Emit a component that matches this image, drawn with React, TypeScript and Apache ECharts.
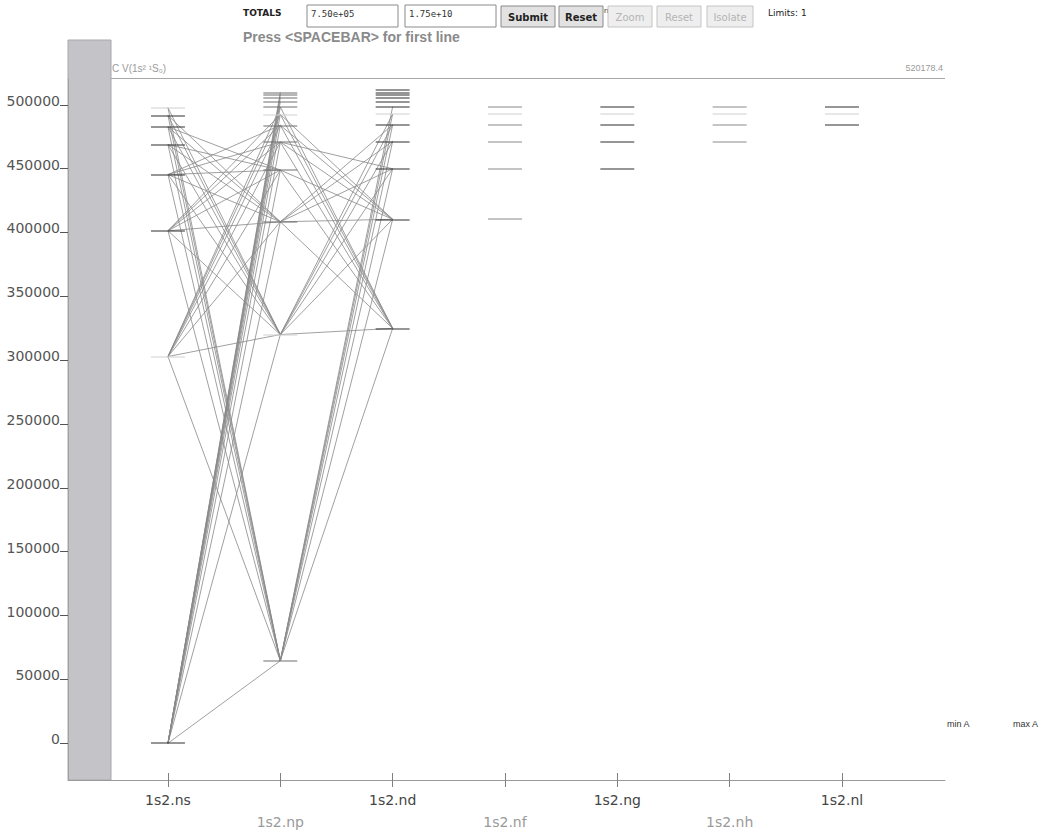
import React, { useEffect, useRef } from "react";
import * as echarts from "echarts";

// Column (configuration series) labels
const columns = ["1s2.ns", "1s2.np", "1s2.nd", "1s2.nf", "1s2.ng", "1s2.nh", "1s2.nl"];
const columnL = ["s", "p", "d", "f", "g", "h", "i"];
const firstN = [2, 2, 3, 4, 5, 6, 7];

// Level energies (cm-1), ordered by n starting at firstN
const sLevels = [0, 302849, 401346, 445361, 468783, 482703, 491648, 497735];
const pLevels = [64592, 320050, 408338, 448864, 470785, 483953, 492480, 498318, 502486, 505567, 507907, 509727];
const dLevels = [324890, 410318, 449888, 471378, 484324, 492731, 498491, 502613, 505662, 507981, 509786, 511900];
const fLevels = [410441, 449946, 471406, 484345, 492744, 498502];
const gLevels = [449950, 471410, 484348, 492746, 498503];
const hLevels = [471411, 484349, 492747, 498504];
const iLevels = [484349, 492747, 498504];

const ionLimit = 520178.4;
const yTicks = [0, 50000, 100000, 150000, 200000, 250000, 300000, 350000, 400000, 450000, 500000];

// Transitions [lower, upper]
const spTransitions = [
  ["2s", "2p"], ["2s", "3p"], ["2s", "4p"], ["2s", "5p"], ["2s", "6p"], ["2s", "7p"], ["2s", "8p"],
  ["2s", "9p"], ["2s", "10p"], ["2s", "11p"], ["2s", "12p"], ["2s", "13p"],
  ["2p", "3s"], ["2p", "4s"], ["2p", "5s"], ["2p", "6s"], ["2p", "7s"], ["2p", "8s"], ["2p", "9s"],
  ["3s", "3p"], ["3s", "4p"], ["3s", "5p"], ["3s", "6p"], ["3s", "7p"], ["3s", "8p"], ["3s", "9p"],
  ["3p", "4s"], ["3p", "5s"], ["3p", "6s"], ["3p", "7s"], ["3p", "8s"], ["3p", "9s"],
  ["4s", "4p"], ["4s", "5p"], ["4s", "6p"], ["4s", "7p"], ["4s", "8p"],
  ["4p", "5s"], ["4p", "6s"], ["4p", "7s"], ["4p", "8s"],
  ["5s", "5p"], ["5s", "6p"], ["5s", "7p"],
  ["5p", "6s"], ["5p", "7s"],
];
const pdTransitions = [
  ["2p", "3d"], ["2p", "4d"], ["2p", "5d"], ["2p", "6d"], ["2p", "7d"], ["2p", "8d"], ["2p", "9d"],
  ["3p", "3d"], ["3p", "4d"], ["3p", "5d"], ["3p", "6d"], ["3p", "7d"], ["3p", "8d"],
  ["3d", "4p"], ["3d", "5p"], ["3d", "6p"], ["3d", "7p"], ["3d", "8p"], ["3d", "9p"],
  ["4p", "4d"], ["4p", "5d"], ["4p", "6d"], ["4p", "7d"],
  ["4d", "5p"], ["4d", "6p"], ["4d", "7p"], ["4d", "8p"],
  ["5d", "6p"],
];

const allLevels = [sLevels, pLevels, dLevels, fLevels, gLevels, hLevels, iLevels];

export default function App() {
  const ref = useRef<HTMLDivElement>(null);

  useEffect(() => {
    if (!ref.current) return;
    const chart = echarts.init(ref.current, null, { renderer: "svg" });

    const colColor = ["#2e2e2e", "#6e6e6e", "#2e2e2e", "#8a8a8a", "#2e2e2e", "#8a8a8a", "#2e2e2e"];
    const lightSet = new Set(["3s", "9s", "3p", "8p", "8d", "8f", "8g", "8h", "8i"]);
    const half = 0.151;

    const levelMap: Record<string, [number, number]> = {};
    const levelData: any[] = [];
    allLevels.forEach((arr, ci) => {
      arr.forEach((e, k) => {
        const name = `${firstN[ci] + k}${columnL[ci]}`;
        levelMap[name] = [ci, e];
        levelData.push({
          coords: [[ci - half, e], [ci + half, e]],
          lineStyle: { color: lightSet.has(name) ? "#cfcfcf" : colColor[ci], width: 2 },
        });
      });
    });

    const transData = [...spTransitions, ...pdTransitions]
      .filter(([a, b]) => levelMap[a] && levelMap[b])
      .map(([a, b]) => ({ coords: [levelMap[a], levelMap[b]] }));

    const font = "DejaVu Sans";
    const xMin = -0.89;
    const xMax = 6.917;

    const btn = (x: number, w: number, label: string, enabled: boolean) => ({
      type: "group",
      children: [
        {
          type: "rect",
          shape: { x, y: 6, width: w, height: 21 },
          style: { fill: enabled ? "#e2e2e2" : "#eeeeee", stroke: enabled ? "#8a8a8a" : "#c4c4c4", lineWidth: 1 },
        },
        {
          type: "text",
          x: x + w / 2,
          y: 17,
          style: {
            text: label,
            fill: enabled ? "#222" : "#b4b4b4",
            font: `${enabled ? "bold " : ""}10px ${font}`,
            align: "center",
            verticalAlign: "middle",
          },
        },
      ],
    });

    const option: any = {
      animation: false,
      backgroundColor: "#ffffff",
      grid: { left: 68, right: 105, top: 79, bottom: 54, containLabel: false },
      xAxis: [
        {
          type: "value",
          min: xMin,
          max: xMax,
          position: "bottom",
          axisLine: { show: true, onZero: false, lineStyle: { color: "#9a9a9a", width: 1 } },
          axisTick: { show: true, length: 7, customValues: [0, 1, 2, 3, 4, 5, 6], lineStyle: { color: "#808080" } },
          axisLabel: {
            customValues: [0, 2, 4, 6],
            formatter: (v: number) => columns[Math.round(v)],
            color: "#444",
            fontFamily: font,
            fontSize: 14,
            margin: 13,
          },
          splitLine: { show: false },
        },
        {
          type: "value",
          min: xMin,
          max: xMax,
          position: "bottom",
          axisLine: { show: false, onZero: false },
          axisTick: { show: true, inside: true, length: 7, customValues: [0, 1, 2, 3, 4, 5, 6], lineStyle: { color: "#808080" } },
          axisLabel: {
            customValues: [1, 3, 5],
            formatter: (v: number) => columns[Math.round(v)],
            color: "#9a9a9a",
            fontFamily: font,
            fontSize: 14,
            margin: 35,
          },
          splitLine: { show: false },
        },
      ],
      yAxis: {
        type: "value",
        min: -28800,
        max: ionLimit,
        axisLine: { show: true, onZero: false, lineStyle: { color: "#a0a0a0" } },
        axisTick: { show: true, length: 8, customValues: yTicks, lineStyle: { color: "#555" } },
        axisLabel: {
          customValues: yTicks,
          formatter: (v: number) => String(Math.round(v)),
          color: "#555",
          fontFamily: font,
          fontSize: 14,
          margin: 8,
          verticalAlign: "bottom",
          lineHeight: 8,
        },
        splitLine: { show: false },
      },
      graphic: [
        {
          type: "rect",
          z: -10,
          shape: { x: 68, y: 40, width: 43, height: 740 },
          style: { fill: "#c4c4c8", stroke: "#a8a8ac", lineWidth: 1 },
        },
        {
          type: "line",
          shape: { x1: 111, y1: 78.5, x2: 945, y2: 78.5 },
          style: { stroke: "#a8a8a8", lineWidth: 1 },
        },
        {
          type: "text",
          x: 112,
          y: 68,
          style: { text: "C V(1s² ¹S₀)", fill: "#9a9a9a", font: "10px Liberation Sans", verticalAlign: "middle" },
        },
        {
          type: "text",
          x: 943,
          y: 68,
          style: { text: "520178.4", fill: "#9a9a9a", font: "9px Liberation Sans", align: "right", verticalAlign: "middle" },
        },
        {
          type: "text",
          x: 243,
          y: 13,
          style: { text: "TOTALS", fill: "#222", font: `bold 9px ${font}`, verticalAlign: "middle" },
        },
        {
          type: "rect",
          shape: { x: 307, y: 5, width: 91, height: 22 },
          style: { fill: "#fff", stroke: "#8a8a8a", lineWidth: 1 },
        },
        {
          type: "text",
          x: 311,
          y: 14,
          style: { text: "7.50e+05", fill: "#333", font: "9px DejaVu Sans Mono", verticalAlign: "middle" },
        },
        {
          type: "rect",
          shape: { x: 405, y: 5, width: 91, height: 22 },
          style: { fill: "#fff", stroke: "#8a8a8a", lineWidth: 1 },
        },
        {
          type: "text",
          x: 409,
          y: 14,
          style: { text: "1.75e+10", fill: "#333", font: "9px DejaVu Sans Mono", verticalAlign: "middle" },
        },
        btn(501, 54, "Submit", true),
        btn(559, 44, "Reset", true),
        {
          type: "text",
          x: 604,
          y: 10,
          style: { text: "n", fill: "#333", font: "8px Liberation Sans", verticalAlign: "middle" },
        },
        btn(608, 44, "Zoom", false),
        btn(657, 44, "Reset", false),
        btn(707, 46, "Isolate", false),
        {
          type: "text",
          x: 768,
          y: 13,
          style: { text: "Limits: 1", fill: "#222", font: `9px ${font}`, verticalAlign: "middle" },
        },
        {
          type: "text",
          x: 243,
          y: 37,
          style: {
            text: "Press <SPACEBAR> for first line",
            fill: "#8a8a8a",
            font: "bold 14px Liberation Sans",
            verticalAlign: "middle",
          },
        },
        {
          type: "text",
          x: 947,
          y: 724,
          style: { text: "min A", fill: "#333", font: "9px Liberation Sans", verticalAlign: "middle" },
        },
        {
          type: "text",
          x: 1013,
          y: 724,
          style: { text: "max A", fill: "#333", font: "9px Liberation Sans", verticalAlign: "middle" },
        },
      ],
      series: [
        {
          type: "lines",
          coordinateSystem: "cartesian2d",
          silent: true,
          z: 2,
          lineStyle: { color: "#8a8a8a", width: 0.9, opacity: 0.9 },
          data: transData,
        },
        {
          type: "lines",
          coordinateSystem: "cartesian2d",
          silent: true,
          z: 3,
          data: levelData,
        },
      ],
    };

    chart.setOption(option);
    return () => chart.dispose();
  }, []);

  return (
    <div
      ref={ref}
      style={{ position: "absolute", left: 0, top: 0, width: 1050, height: 834 }}
    />
  );
}
